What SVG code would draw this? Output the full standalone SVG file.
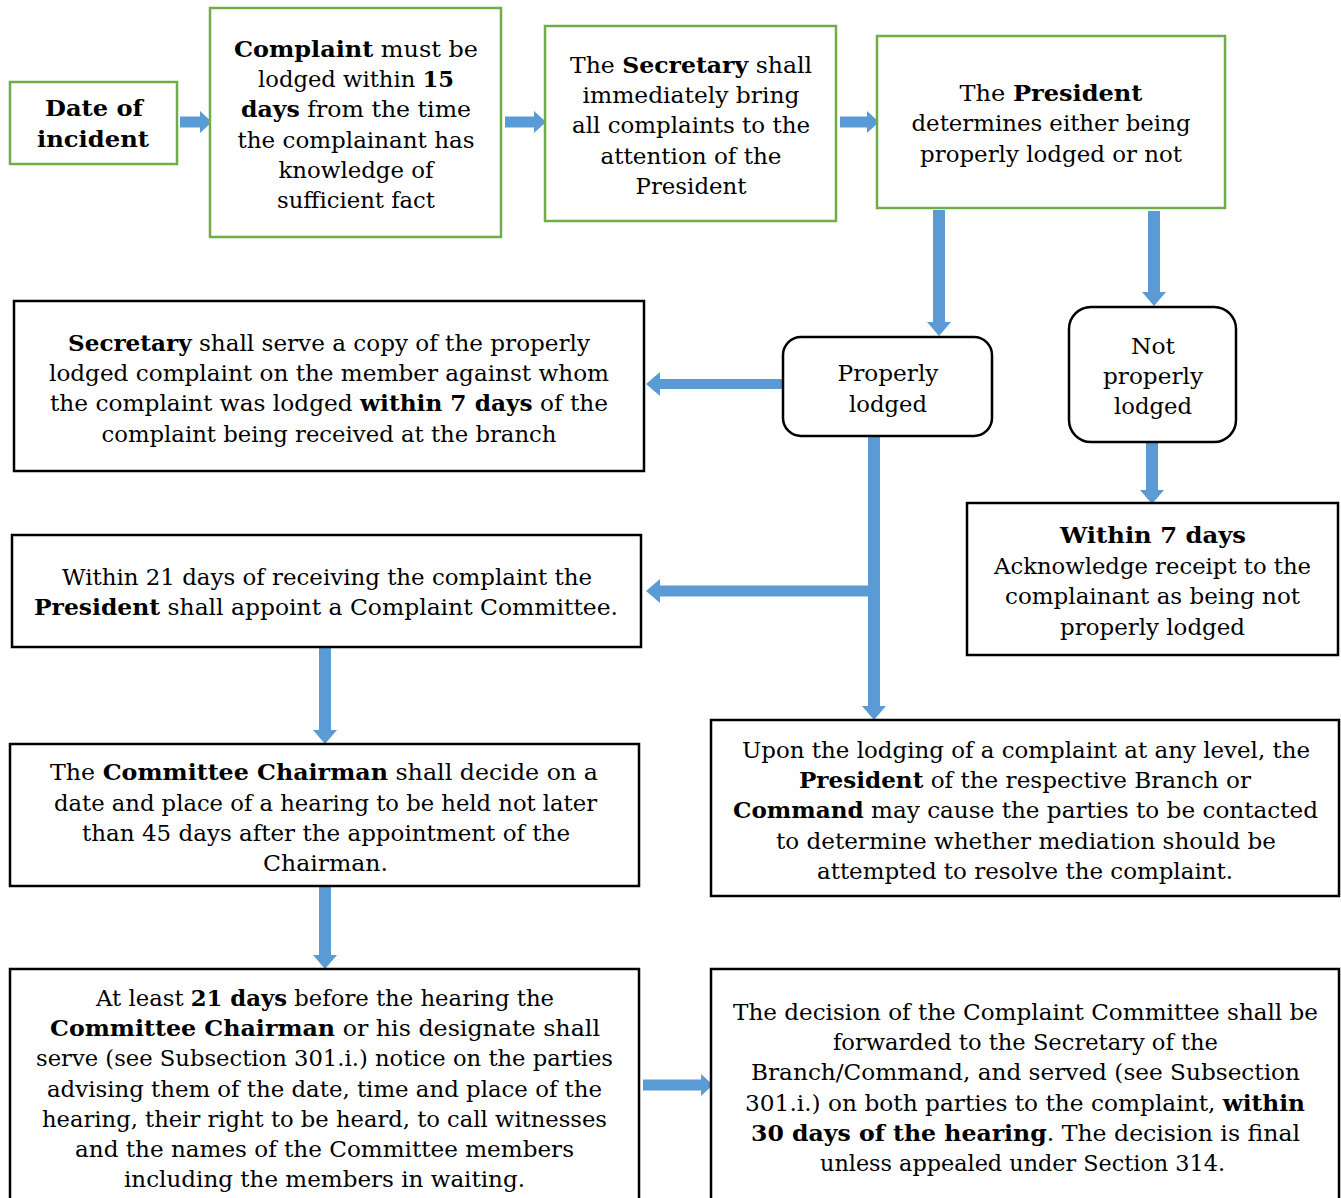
<svg xmlns="http://www.w3.org/2000/svg" width="1341" height="1198" viewBox="0 0 1341 1198">
<style>
.g{fill:#fff;stroke:#70AD47;stroke-width:2.5}
.k{fill:#fff;stroke:#000;stroke-width:2.5}
text{font-family:"DejaVu Serif","Liberation Serif",serif;font-size:23px;fill:#000;text-anchor:middle}
.b{font-weight:bold}
.c{stroke:#5B9BD5;fill:none}
</style>
<defs>
<marker id="ah" markerUnits="userSpaceOnUse" viewBox="0 0 14 24" markerWidth="14" markerHeight="24" refX="0" refY="12" orient="auto">
<path d="M0,0 L14,12 L0,24 z" fill="#5B9BD5"/>
</marker>
<marker id="ahs" markerUnits="userSpaceOnUse" viewBox="0 0 12 22" markerWidth="12" markerHeight="22" refX="0" refY="11" orient="auto">
<path d="M0,0 L12,11 L0,22 z" fill="#5B9BD5"/>
</marker>
</defs>
<g id="connectors">
<line class="c" x1="180" y1="122" x2="200" y2="122" stroke-width="11" marker-end="url(#ahs)"/>
<line class="c" x1="505" y1="122" x2="534" y2="122" stroke-width="11" marker-end="url(#ahs)"/>
<line class="c" x1="840" y1="122" x2="867" y2="122" stroke-width="11" marker-end="url(#ahs)"/>
<line class="c" x1="939" y1="210" x2="939" y2="322" stroke-width="12" marker-end="url(#ah)"/>
<line class="c" x1="1154" y1="211" x2="1154" y2="292" stroke-width="12" marker-end="url(#ah)"/>
<line class="c" x1="783" y1="384" x2="660" y2="384" stroke-width="10" marker-end="url(#ah)"/>
<line class="c" x1="874" y1="436" x2="874" y2="706" stroke-width="12" marker-end="url(#ah)"/>
<line class="c" x1="874" y1="591" x2="660" y2="591" stroke-width="11" marker-end="url(#ah)"/>
<line class="c" x1="1152" y1="442" x2="1152" y2="490" stroke-width="12" marker-end="url(#ah)"/>
<line class="c" x1="325" y1="647" x2="325" y2="730" stroke-width="12" marker-end="url(#ah)"/>
<line class="c" x1="325" y1="886" x2="325" y2="955" stroke-width="12" marker-end="url(#ah)"/>
<line class="c" x1="643" y1="1085" x2="701" y2="1085" stroke-width="11" marker-end="url(#ahs)"/>
</g>
<g id="n1">
<rect class="g" x="10" y="82" width="167" height="82"/>
<text class="b" x="94" y="116" textLength="98" lengthAdjust="spacingAndGlyphs">Date of</text>
<text class="b" x="93" y="147" textLength="112" lengthAdjust="spacingAndGlyphs">incident</text>
</g>
<g id="n2">
<rect class="g" x="210" y="8" width="291" height="229"/>
<text x="356" y="57" textLength="244" lengthAdjust="spacingAndGlyphs"><tspan class="b">Complaint</tspan> must be</text>
<text x="356" y="87" textLength="196" lengthAdjust="spacingAndGlyphs">lodged within <tspan class="b">15</tspan></text>
<text x="356" y="117" textLength="230" lengthAdjust="spacingAndGlyphs"><tspan class="b">days</tspan> from the time</text>
<text x="356" y="148" textLength="237" lengthAdjust="spacingAndGlyphs">the complainant has</text>
<text x="356" y="178" textLength="155" lengthAdjust="spacingAndGlyphs">knowledge of</text>
<text x="356" y="208" textLength="158" lengthAdjust="spacingAndGlyphs">sufficient fact</text>
</g>
<g id="n3">
<rect class="g" x="545" y="26" width="291" height="195"/>
<text x="691" y="73" textLength="242" lengthAdjust="spacingAndGlyphs">The <tspan class="b">Secretary</tspan> shall</text>
<text x="691" y="103" textLength="217" lengthAdjust="spacingAndGlyphs">immediately bring</text>
<text x="691" y="133" textLength="238" lengthAdjust="spacingAndGlyphs">all complaints to the</text>
<text x="691" y="164" textLength="181" lengthAdjust="spacingAndGlyphs">attention of the</text>
<text x="691" y="194" textLength="111" lengthAdjust="spacingAndGlyphs">President</text>
</g>
<g id="n4">
<rect class="g" x="877" y="36" width="348" height="172"/>
<text x="1051" y="101" textLength="183" lengthAdjust="spacingAndGlyphs">The <tspan class="b">President</tspan></text>
<text x="1051" y="131" textLength="279" lengthAdjust="spacingAndGlyphs">determines either being</text>
<text x="1051" y="162" textLength="262" lengthAdjust="spacingAndGlyphs">properly lodged or not</text>
</g>
<g id="n5">
<rect class="k" x="14" y="301" width="630" height="170"/>
<text x="329" y="351" textLength="522" lengthAdjust="spacingAndGlyphs"><tspan class="b">Secretary</tspan> shall serve a copy of the properly</text>
<text x="329" y="381" textLength="560" lengthAdjust="spacingAndGlyphs">lodged complaint on the member against whom</text>
<text x="329" y="411" textLength="558" lengthAdjust="spacingAndGlyphs">the complaint was lodged <tspan class="b">within 7 days</tspan> of the</text>
<text x="329" y="442" textLength="455" lengthAdjust="spacingAndGlyphs">complaint being received at the branch</text>
</g>
<g id="n6">
<rect class="k" x="783" y="337" width="209" height="99" rx="18"/>
<text x="888" y="381" textLength="101" lengthAdjust="spacingAndGlyphs">Properly</text>
<text x="888" y="412" textLength="78" lengthAdjust="spacingAndGlyphs">lodged</text>
</g>
<g id="n7">
<rect class="k" x="1069" y="307" width="167" height="135" rx="22"/>
<text x="1153" y="354" textLength="44" lengthAdjust="spacingAndGlyphs">Not</text>
<text x="1153" y="384" textLength="100" lengthAdjust="spacingAndGlyphs">properly</text>
<text x="1153" y="414" textLength="78" lengthAdjust="spacingAndGlyphs">lodged</text>
</g>
<g id="n8">
<rect class="k" x="967" y="503" width="371" height="152"/>
<text class="b" x="1153" y="543" textLength="186" lengthAdjust="spacingAndGlyphs">Within 7 days</text>
<text x="1152.5" y="574" textLength="317" lengthAdjust="spacingAndGlyphs">Acknowledge receipt to the</text>
<text x="1152.5" y="604" textLength="295" lengthAdjust="spacingAndGlyphs">complainant as being not</text>
<text x="1152.5" y="635" textLength="185" lengthAdjust="spacingAndGlyphs">properly lodged</text>
</g>
<g id="n9">
<rect class="k" x="12" y="535" width="629" height="112"/>
<text x="327" y="585" textLength="530" lengthAdjust="spacingAndGlyphs">Within 21 days of receiving the complaint the</text>
<text x="326" y="615" textLength="584" lengthAdjust="spacingAndGlyphs"><tspan class="b">President</tspan> shall appoint a Complaint Committee.</text>
</g>
<g id="n10">
<rect class="k" x="10" y="744" width="629" height="142"/>
<text x="324" y="780" textLength="548" lengthAdjust="spacingAndGlyphs">The <tspan class="b">Committee Chairman</tspan> shall decide on a</text>
<text x="325.5" y="811" textLength="543" lengthAdjust="spacingAndGlyphs">date and place of a hearing to be held not later</text>
<text x="326" y="841" textLength="488" lengthAdjust="spacingAndGlyphs">than 45 days after the appointment of the</text>
<text x="325.5" y="871" textLength="125" lengthAdjust="spacingAndGlyphs">Chairman.</text>
</g>
<g id="n11">
<rect class="k" x="711" y="720" width="628" height="176"/>
<text x="1026" y="758" textLength="568" lengthAdjust="spacingAndGlyphs">Upon the lodging of a complaint at any level, the</text>
<text x="1025" y="788" textLength="452" lengthAdjust="spacingAndGlyphs"><tspan class="b">President</tspan> of the respective Branch or</text>
<text x="1025.5" y="818" textLength="585" lengthAdjust="spacingAndGlyphs"><tspan class="b">Command</tspan> may cause the parties to be contacted</text>
<text x="1026" y="849" textLength="500" lengthAdjust="spacingAndGlyphs">to determine whether mediation should be</text>
<text x="1025" y="879" textLength="416" lengthAdjust="spacingAndGlyphs">attempted to resolve the complaint.</text>
</g>
<g id="n12">
<rect class="k" x="10" y="969" width="629" height="240"/>
<text x="325" y="1006" textLength="458" lengthAdjust="spacingAndGlyphs">At least <tspan class="b">21 days</tspan> before the hearing the</text>
<text x="325" y="1036" textLength="550" lengthAdjust="spacingAndGlyphs"><tspan class="b">Committee Chairman</tspan> or his designate shall</text>
<text x="324.5" y="1066" textLength="577" lengthAdjust="spacingAndGlyphs">serve (see Subsection 301.i.) notice on the parties</text>
<text x="324.5" y="1097" textLength="555" lengthAdjust="spacingAndGlyphs">advising them of the date, time and place of the</text>
<text x="324.5" y="1127" textLength="565" lengthAdjust="spacingAndGlyphs">hearing, their right to be heard, to call witnesses</text>
<text x="324.5" y="1157" textLength="499" lengthAdjust="spacingAndGlyphs">and the names of the Committee members</text>
<text x="324.5" y="1187" textLength="401" lengthAdjust="spacingAndGlyphs">including the members in waiting.</text>
</g>
<g id="n13">
<rect class="k" x="711" y="969" width="628" height="240"/>
<text x="1025.5" y="1020" textLength="585" lengthAdjust="spacingAndGlyphs">The decision of the Complaint Committee shall be</text>
<text x="1025.5" y="1050" textLength="385" lengthAdjust="spacingAndGlyphs">forwarded to the Secretary of the</text>
<text x="1025.5" y="1080" textLength="549" lengthAdjust="spacingAndGlyphs">Branch/Command, and served (see Subsection</text>
<text x="1025" y="1111" textLength="560" lengthAdjust="spacingAndGlyphs">301.i.) on both parties to the complaint, <tspan class="b">within</tspan></text>
<text x="1025.5" y="1141" textLength="549" lengthAdjust="spacingAndGlyphs"><tspan class="b">30 days of the hearing</tspan>. The decision is final</text>
<text x="1022.5" y="1171" textLength="405" lengthAdjust="spacingAndGlyphs">unless appealed under Section 314.</text>
</g>
</svg>
